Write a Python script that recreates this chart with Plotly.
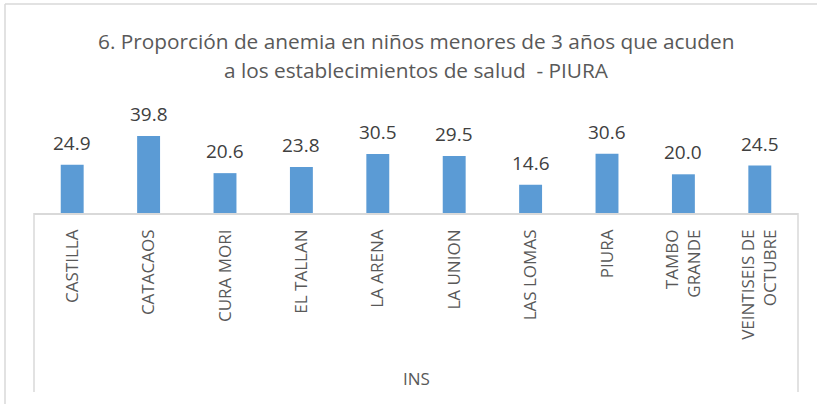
import plotly.graph_objects as go

categories = ["CASTILLA", "CATACAOS", "CURA MORI", "EL TALLAN", "LA ARENA",
              "LA UNION", "LAS LOMAS", "PIURA", "TAMBO<br>GRANDE", "VEINTISEIS DE<br>OCTUBRE"]
values = [24.9, 39.8, 20.6, 23.8, 30.5, 29.5, 14.6, 30.6, 20.0, 24.5]
title_lines = ["6. Proporción de anemia en niños menores de 3 años que acuden",
               "a los establecimientos de salud  - PIURA"]
group_label = "INS"

W, H = 817, 404
L, R, T, B = 34, 19, 100, 191
ph = H - T - B
pw = W - L - R
def py(pix):
    return (H - B - pix) / ph
def px(pix):
    return (pix - L) / pw

FONT = "Open Sans"
bar_color = "#5b9bd5"
line_color = "#d9d9d9"
text_color = "#595959"

fig = go.Figure(go.Bar(x=categories, y=values, marker_color=bar_color, width=0.3,
                       marker_line_width=0, hoverinfo="skip"))

annotations = []
for c, v in zip(categories, values):
    annotations.append(dict(x=c, y=v, text=f"{v:.1f}", showarrow=False, yanchor="bottom",
                            yshift=7, font=dict(family=FONT, size=19, color="#404040")))
annotations.append(dict(xref="paper", yref="paper", x=0.5, y=py(41), text=title_lines[0],
                        showarrow=False, yanchor="middle", xanchor="center",
                        font=dict(family=FONT, size=20.8, color=text_color)))
annotations.append(dict(xref="paper", yref="paper", x=0.5, y=py(70), text=title_lines[1],
                        showarrow=False, yanchor="middle", xanchor="center",
                        font=dict(family=FONT, size=20.8, color=text_color)))
annotations.append(dict(xref="paper", yref="paper", x=0.5, y=py(378), text=group_label,
                        showarrow=False, yanchor="middle", xanchor="center",
                        font=dict(family=FONT, size=17, color=text_color)))

shapes = [
    dict(type="line", xref="paper", yref="paper", x0=0, x1=0, y0=0, y1=py(392),
         line=dict(color=line_color, width=1.5)),
    dict(type="line", xref="paper", yref="paper", x0=1, x1=1, y0=0, y1=py(392),
         line=dict(color=line_color, width=1.5)),
    dict(type="line", xref="paper", yref="paper", x0=px(5), x1=px(W + 5), y0=py(4), y1=py(4),
         line=dict(color=line_color, width=1.5)),
    dict(type="line", xref="paper", yref="paper", x0=px(5), x1=px(5), y0=py(4), y1=py(H + 5),
         line=dict(color=line_color, width=1.5)),
]

fig.update_layout(
    width=W, height=H, margin=dict(l=L, r=R, t=T, b=B, autoexpand=False),
    paper_bgcolor="white", plot_bgcolor="white", showlegend=False,
    annotations=annotations, shapes=shapes,
    xaxis=dict(tickangle=-90, showline=True, linecolor=line_color, linewidth=1.5,
               ticks="", showgrid=False, tickfont=dict(family=FONT, size=17, color=text_color),
               ticklabelstandoff=8, range=[-0.5, len(categories) - 0.5]),
    yaxis=dict(visible=False, range=[0, ph / 1.935], showgrid=False),
)
fig.write_html("out.html", config={"displayModeBar": False},
               post_script="document.body.style.margin='0';document.body.style.overflow='hidden';")
